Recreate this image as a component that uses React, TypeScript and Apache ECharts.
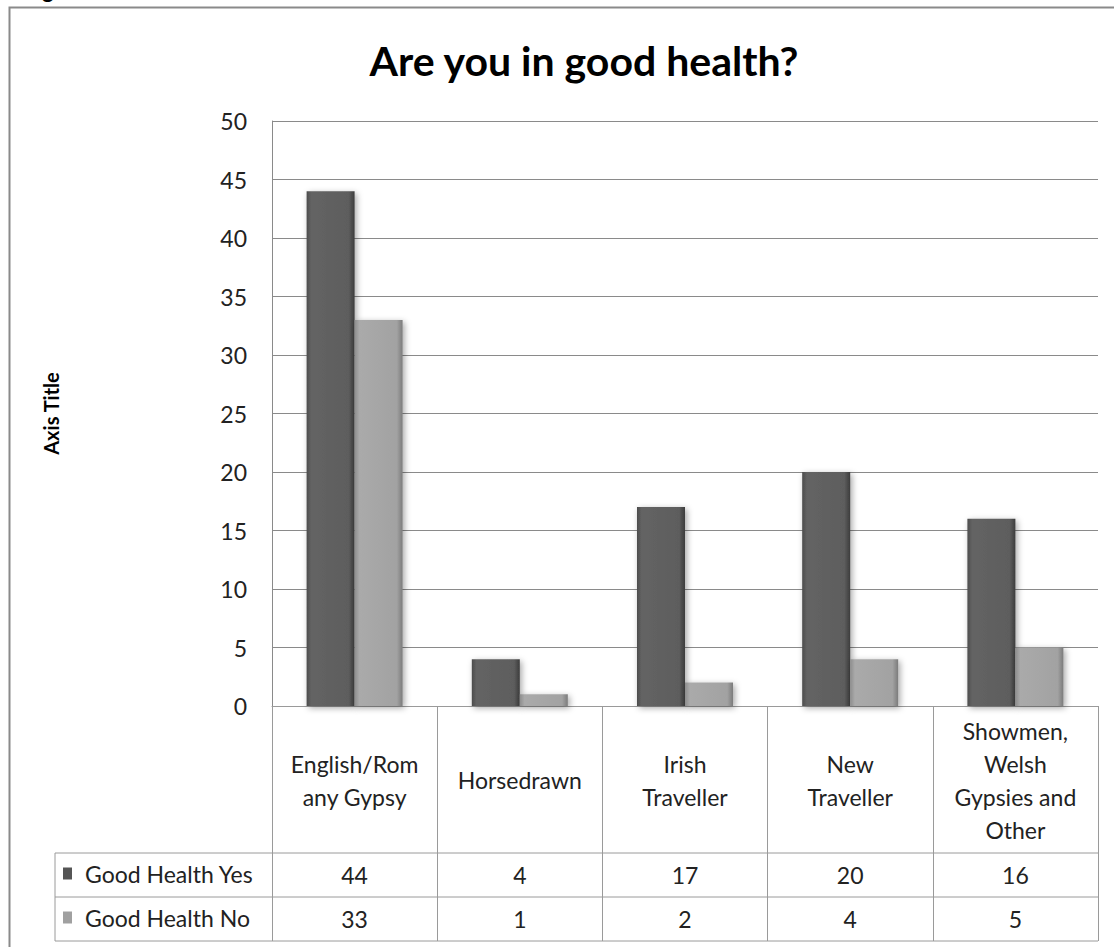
import React, { useEffect, useRef } from "react";
import * as echarts from "echarts";

const categories = [
  "English/Rom\nany Gypsy",
  "Horsedrawn",
  "Irish\nTraveller",
  "New\nTraveller",
  "Showmen,\nWelsh\nGypsies and\nOther",
];
const seriesNames = ["Good Health Yes", "Good Health No"];
const goodHealthYes = [44, 4, 17, 20, 16];
const goodHealthNo = [33, 1, 2, 4, 5];
const yTicks = { min: 0, max: 50, interval: 5 };

const FONT = "Lato, 'Noto Sans', sans-serif";
const GL = 272; // grid left
const GR = 1098; // grid right
const GT = 121; // grid top
const GB = 706; // grid bottom
const ROW1 = 853;
const ROW2 = 897;
const ROW3 = 941;
const TABLE_L = 55;

const grad = (edgeL: string, mid: string, mid2: string, edgeR: string) =>
  new echarts.graphic.LinearGradient(0, 0, 1, 0, [
    { offset: 0, color: edgeL },
    { offset: 0.1, color: mid },
    { offset: 0.88, color: mid2 },
    { offset: 1, color: edgeR },
  ]);

export default function App() {
  const ref = useRef<HTMLDivElement>(null);
  useEffect(() => {
    if (!ref.current) return;
    const chart = echarts.init(ref.current, null, { renderer: "svg" });
    const lineStyle = { stroke: "#9a9a9a", lineWidth: 1 };
    const yesColor = grad("#4c4c4c", "#646464", "#5d5d5d", "#3c3c3c");
    const noColor = grad("#8d8d8d", "#aaaaaa", "#a2a2a2", "#7b7b7b");
    const legendText = {
      fontFamily: FONT,
      fontSize: 23,
      color: "#222",
      padding: [0, 0, 0, 8],
    };
    const legendBase = {
      orient: "horizontal",
      left: 63,
      itemWidth: 9,
      itemHeight: 12,
      icon: "rect",
      padding: 0,
      textStyle: legendText,
    };
    chart.setOption({
      animation: false,
      backgroundColor: "#ffffff",
      title: {
        text: "Are you in good health?",
        left: 579,
        top: 35,
        textAlign: "center",
        textStyle: { fontFamily: FONT, fontWeight: "bold", fontSize: 41, color: "#000" },
      },
      legend: [
        {
          ...legendBase,
          top: (ROW1 + ROW2) / 2 - 13,
          data: [{ name: seriesNames[0], itemStyle: { color: "#555555" } }],
        },
        {
          ...legendBase,
          top: (ROW2 + ROW3) / 2 - 13,
          data: [{ name: seriesNames[1], itemStyle: { color: "#a0a0a0" } }],
        },
      ],
      grid: { left: GL, right: 1114 - GR, top: GT, bottom: 947 - GB },
      xAxis: [
        {
          type: "category",
          data: categories,
          position: "bottom",
          axisLine: { show: true, lineStyle: { color: "#9a9a9a" } },
          axisTick: { show: true, length: ROW3 - GB, interval: 0, lineStyle: { color: "#9a9a9a" } },
          axisLabel: {
            interval: 0,
            margin: 74,
            verticalAlign: "middle",
            fontFamily: FONT,
            fontSize: 23,
            lineHeight: 33,
            color: "#222",
          },
        },
        {
          type: "category",
          data: categories,
          position: "bottom",
          axisLine: { show: false },
          axisTick: { show: false },
          axisLabel: {
            interval: 0,
            margin: (ROW1 + ROW2) / 2 - GB,
            verticalAlign: "middle",
            fontFamily: FONT,
            fontSize: 23,
            color: "#222",
            formatter: (_v: string, i: number) => String(goodHealthYes[i]),
          },
        },
        {
          type: "category",
          data: categories,
          position: "bottom",
          axisLine: { show: false },
          axisTick: { show: false },
          axisLabel: {
            interval: 0,
            margin: (ROW2 + ROW3) / 2 - GB,
            verticalAlign: "middle",
            fontFamily: FONT,
            fontSize: 23,
            color: "#222",
            formatter: (_v: string, i: number) => String(goodHealthNo[i]),
          },
        },
      ],
      yAxis: {
        type: "value",
        min: yTicks.min,
        max: yTicks.max,
        interval: yTicks.interval,
        name: "Axis Title",
        nameLocation: "middle",
        nameRotate: 90,
        nameGap: GL - 61,
        nameTextStyle: { fontFamily: FONT, fontWeight: "bold", fontSize: 20, color: "#000" },
        axisLine: { show: true, lineStyle: { color: "#8a8a8a" } },
        axisTick: { show: false },
        axisLabel: { margin: 25, fontFamily: FONT, fontSize: 23, color: "#222" },
        splitLine: { lineStyle: { color: "#8a8a8a", width: 1 } },
      },
      series: [
        {
          name: seriesNames[0],
          type: "bar",
          data: goodHealthYes,
          barWidth: 48,
          barGap: "0%",
          itemStyle: {
            color: yesColor,
            shadowColor: "rgba(0,0,0,0.35)",
            shadowBlur: 6,
            shadowOffsetX: 2,
            shadowOffsetY: 2,
          },
        },
        {
          name: seriesNames[1],
          type: "bar",
          data: goodHealthNo,
          barWidth: 48,
          barGap: "0%",
          itemStyle: {
            color: noColor,
            shadowColor: "rgba(0,0,0,0.35)",
            shadowBlur: 6,
            shadowOffsetX: 2,
            shadowOffsetY: 2,
          },
        },
      ],
      graphic: [
        {
          type: "rect",
          z: -10,
          silent: true,
          shape: { x: 9.5, y: 7.5, width: 1200, height: 1000 },
          style: { fill: "none", stroke: "#8a8a8a", lineWidth: 2 },
        },
        {
          type: "text",
          x: 24,
          y: 0,
          silent: true,
          style: {
            text: "Figure 3: Individual health",
            fontFamily: FONT,
            fontWeight: "bold",
            fontSize: 22,
            fill: "#000",
            verticalAlign: "bottom",
          },
        },
        { type: "line", silent: true, shape: { x1: TABLE_L, y1: ROW1, x2: GR, y2: ROW1 }, style: lineStyle },
        { type: "line", silent: true, shape: { x1: TABLE_L, y1: ROW2, x2: GR, y2: ROW2 }, style: lineStyle },
        { type: "line", silent: true, shape: { x1: TABLE_L, y1: ROW3, x2: GR, y2: ROW3 }, style: lineStyle },
        { type: "line", silent: true, shape: { x1: TABLE_L, y1: ROW1, x2: TABLE_L, y2: ROW3 }, style: lineStyle },
      ],
    });
    return () => chart.dispose();
  }, []);
  return (
    <div
      ref={ref}
      style={{ position: "absolute", left: 0, top: 0, width: 1114, height: 947 }}
    />
  );
}
